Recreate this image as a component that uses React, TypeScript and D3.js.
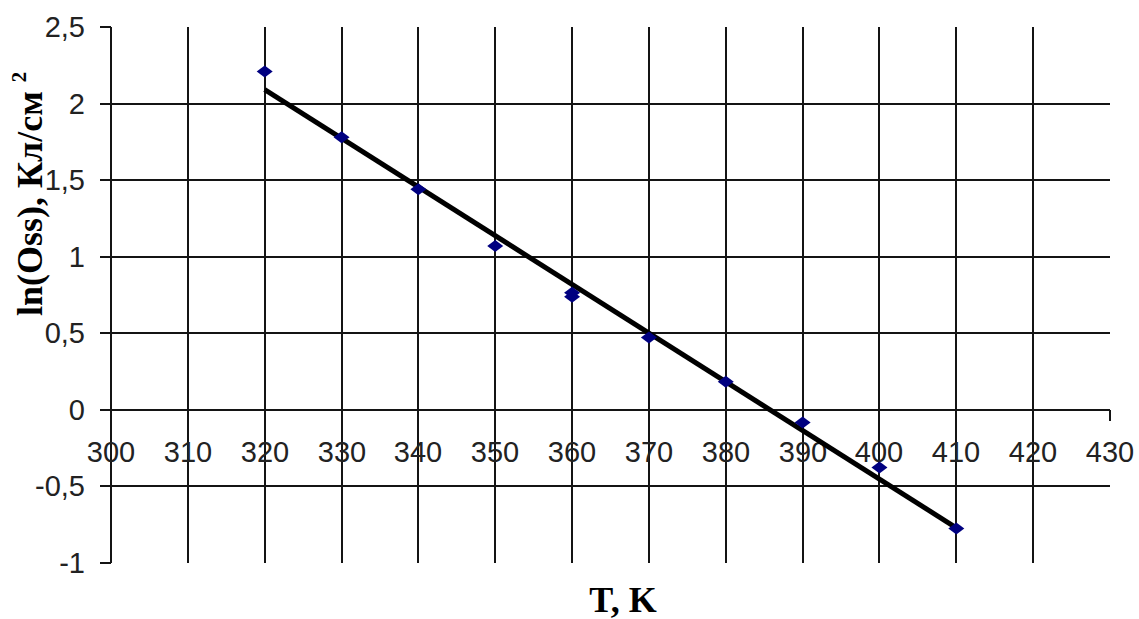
import * as d3 from "d3"
import React, { useRef, useEffect } from "react"

// measured points (T, K  ->  ln(Oss))
const temps = [320, 330, 340, 350, 360, 360, 370, 380, 390, 400, 410]
const lnOss = [2.21, 1.78, 1.44, 1.07, 0.738, 0.764, 0.472, 0.183, -0.083, -0.377, -0.775]

const xTicks = [300, 310, 320, 330, 340, 350, 360, 370, 380, 390, 400, 410, 420, 430]
const yTicks = [-1, -0.5, 0, 0.5, 1, 1.5, 2, 2.5]

const W = 1139
const H = 619

function Chart() {
    const ref = useRef(null)

    useEffect(() => {
        draw()
    }, [])

    const draw = () => {
        const svg = d3.select(ref.current)
        svg.selectAll("*").remove()

        const x = d3.scaleLinear().domain([300, 430]).range([111, 1110])
        const y = d3.scaleLinear().domain([-1, 2.5]).range([563, 27])
        const rx = (v) => Math.round(x(v))
        const ry = (v) => Math.round(y(v))

        const lineColor = "#141414"

        // vertical gridlines (no line at the last tick)
        svg.append("g")
            .selectAll("line")
            .data(xTicks.filter(d => d > 300 && d < 430))
            .enter()
            .append("line")
            .attr("x1", d => rx(d)).attr("x2", d => rx(d))
            .attr("y1", ry(2.5)).attr("y2", ry(-1))
            .attr("stroke", lineColor)
            .attr("stroke-width", 2)

        // horizontal gridlines
        svg.append("g")
            .selectAll("line")
            .data(yTicks.filter(d => d > -1 && d < 2.5))
            .enter()
            .append("line")
            .attr("x1", rx(300)).attr("x2", rx(430))
            .attr("y1", d => ry(d)).attr("y2", d => ry(d))
            .attr("stroke", lineColor)
            .attr("stroke-width", 2)

        // y axis line + ticks
        svg.append("line")
            .attr("x1", rx(300)).attr("x2", rx(300))
            .attr("y1", ry(2.5)).attr("y2", ry(-1))
            .attr("stroke", lineColor).attr("stroke-width", 2)
        svg.append("g")
            .selectAll("line")
            .data(yTicks)
            .enter()
            .append("line")
            .attr("x1", rx(300) - 11).attr("x2", rx(300))
            .attr("y1", d => ry(d)).attr("y2", d => ry(d))
            .attr("stroke", lineColor).attr("stroke-width", 2)

        // x axis ticks (pointing down from y = 0)
        svg.append("g")
            .selectAll("line")
            .data(xTicks)
            .enter()
            .append("line")
            .attr("x1", d => rx(d)).attr("x2", d => rx(d))
            .attr("y1", ry(0)).attr("y2", ry(0) + 11)
            .attr("stroke", lineColor).attr("stroke-width", 2)

        const fmt = (v) => String(v).replace(".", ",")

        // y tick labels
        svg.append("g")
            .selectAll("text")
            .data(yTicks)
            .enter()
            .append("text")
            .attr("x", 85)
            .attr("y", d => ry(d))
            .attr("dy", "0.36em")
            .attr("text-anchor", "end")
            .attr("font-family", "Liberation Sans, Arial, sans-serif")
            .attr("font-size", "29px")
            .attr("fill", "#222")
            .text(d => fmt(d))

        // x tick labels
        svg.append("g")
            .selectAll("text")
            .data(xTicks)
            .enter()
            .append("text")
            .attr("x", d => rx(d))
            .attr("y", 452)
            .attr("dy", "0.36em")
            .attr("text-anchor", "middle")
            .attr("font-family", "Liberation Sans, Arial, sans-serif")
            .attr("font-size", "29px")
            .attr("fill", "#222")
            .text(d => fmt(d))

        // linear trend (least squares over the points)
        const mx = d3.mean(temps)
        const my = d3.mean(lnOss)
        const sxy = d3.sum(temps, (t, i) => (t - mx) * (lnOss[i] - my))
        const sxx = d3.sum(temps, t => (t - mx) * (t - mx))
        const slope = sxy / sxx
        const icpt = my - slope * mx
        const ends = d3.extent(temps)
        const trend = d3.line().x(d => x(d)).y(d => y(icpt + slope * d))
        svg.append("path")
            .attr("d", trend(ends))
            .attr("stroke", "#000")
            .attr("stroke-width", 5)
            .attr("fill", "none")

        // diamond markers
        const diamond = (cx, cy) => `M${cx - 8},${cy}L${cx},${cy - 6}L${cx + 8},${cy}L${cx},${cy + 6}Z`
        svg.append("g")
            .selectAll("path")
            .data(temps.map((t, i) => [t, lnOss[i]]))
            .enter()
            .append("path")
            .attr("d", d => diamond(x(d[0]), y(d[1])))
            .attr("fill", "#000080")

        // axis titles
        const title = svg.append("text")
            .attr("transform", "translate(42,316) rotate(-90)")
            .attr("font-family", "Liberation Serif, Times New Roman, serif")
            .attr("font-weight", "bold")
            .attr("font-size", "36px")
            .attr("fill", "#000")
        title.append("tspan").text("ln(Oss), Кл/см ")
        title.append("tspan").attr("dy", -16).attr("font-size", "21px").text("2")

        svg.append("text")
            .attr("x", 623)
            .attr("y", 612)
            .attr("text-anchor", "middle")
            .attr("font-family", "Liberation Serif, Times New Roman, serif")
            .attr("font-weight", "bold")
            .attr("font-size", "36px")
            .attr("fill", "#000")
            .text("T, K")
    }

    return (
        <svg ref={ref} width={W} height={H} style={{ position: "absolute", left: 0, top: 0, background: "#fff" }}>
        </svg>
    )
}

export default function App() {
    return <Chart />
}
